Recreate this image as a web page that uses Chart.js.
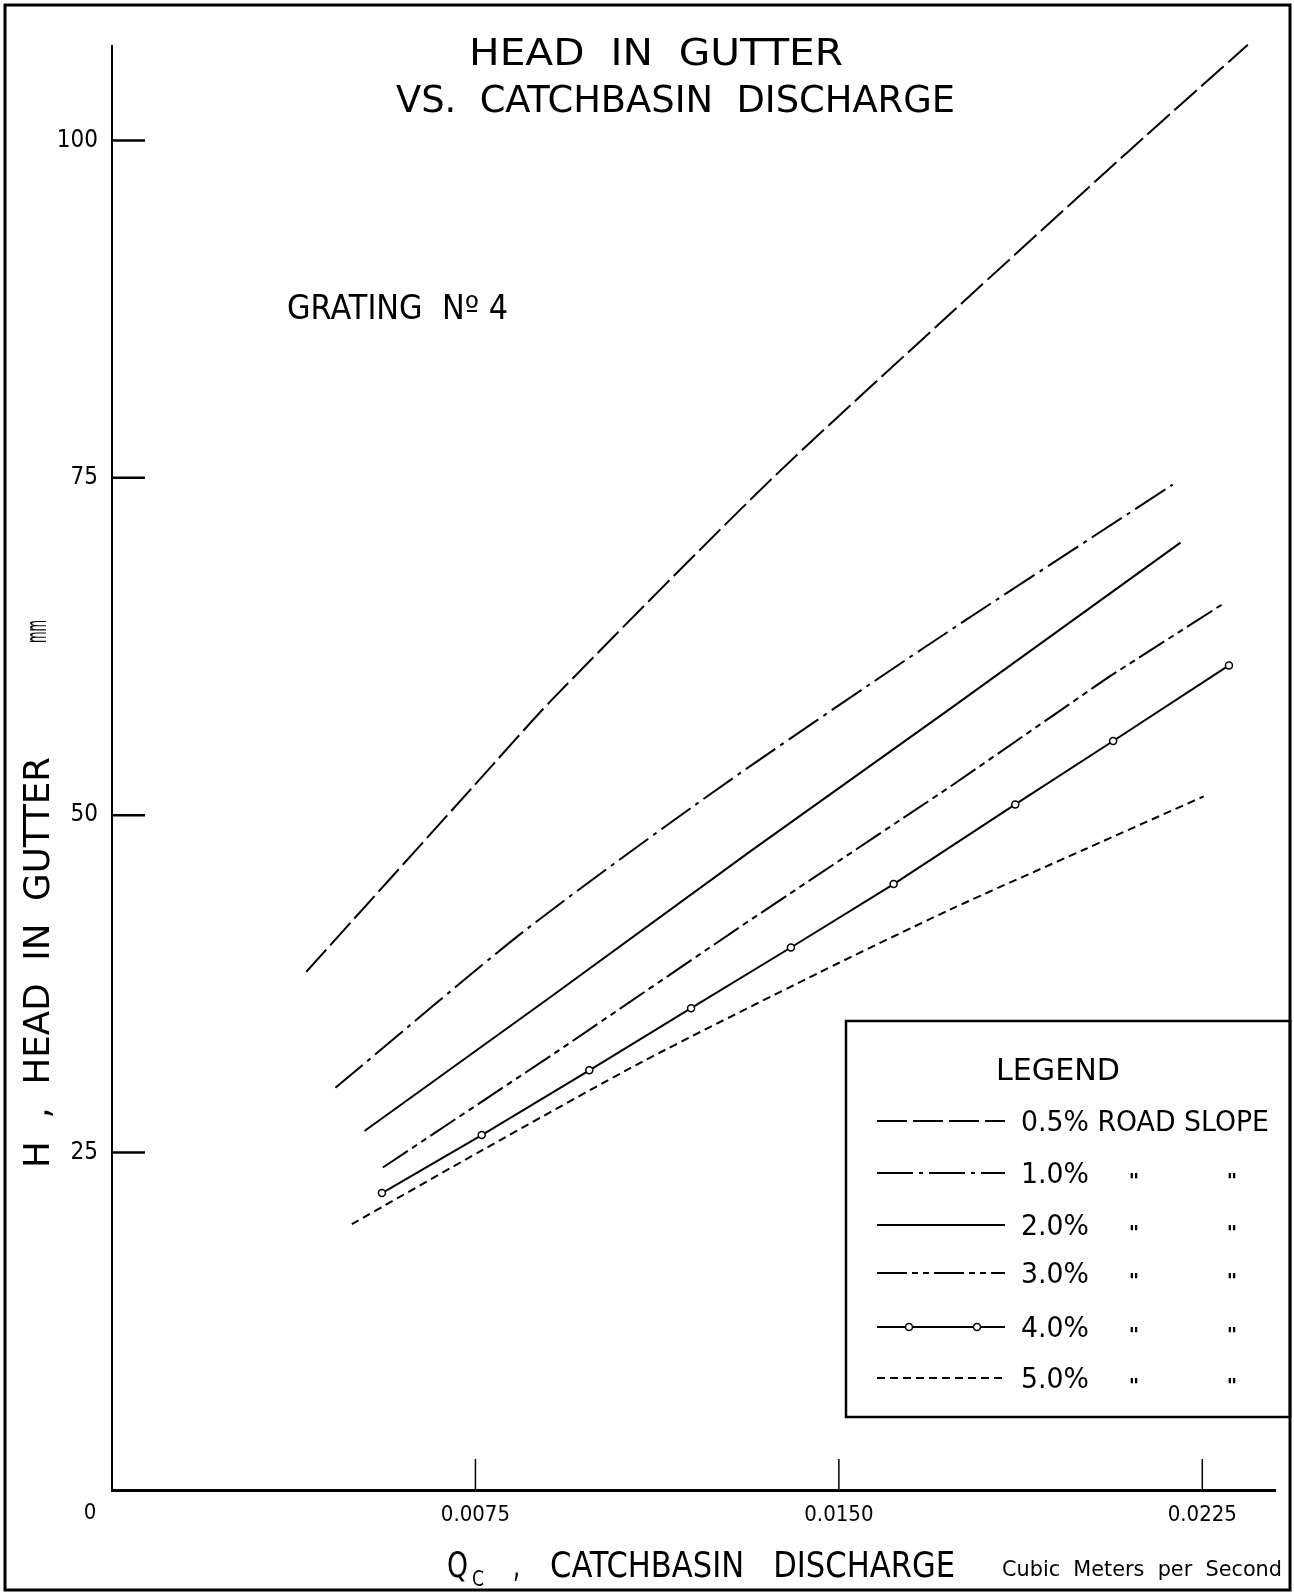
<!DOCTYPE html>
<html>
<head>
<meta charset="utf-8">
<title>Head in gutter vs. catchbasin discharge</title>
<script src="https://cdn.jsdelivr.net/npm/chart.js@4.4.0/dist/chart.umd.min.js"></script>
<style>
  html, body { margin: 0; padding: 0; background: #fff; }
  #wrap { width: 1294px; height: 1593px; position: relative; }
</style>
</head>
<body>
<div id="wrap"><canvas id="chart" width="1294" height="1593"></canvas></div>
<script>
/* ---------------------------------------------
   Data (Q in m3/s, H in mm)
   --------------------------------------------- */
var slopeLabels = ['0.5% ROAD SLOPE', '1.0%', '2.0%', '3.0%', '4.0%', '5.0%'];

var q05 = [0.00401, 0.0075, 0.00909, 0.01355, 0.01728, 0.02101, 0.02344];
var h05 = [38.4, 52.3, 58.6, 74.7, 87.1, 99.3, 107.1];

var q10 = [0.00461, 0.0085, 0.01244, 0.01671, 0.02189];
var h10 = [29.8, 41.4, 51.8, 62.3, 74.5];

var q20 = [0.00521, 0.0090, 0.0132, 0.0173, 0.02205];
var h20 = [26.6, 36.4, 47.4, 57.9, 70.2];

var q30 = [0.00559, 0.00919, 0.01295, 0.01729, 0.02055, 0.0229];
var h30 = [23.9, 32.5, 41.7, 52.1, 60.2, 65.6];

var q40 = [0.00557, 0.00763, 0.00985, 0.01195, 0.01401, 0.01613, 0.01864, 0.02066, 0.02305];
var h40 = [22.0, 26.3, 31.1, 35.7, 40.2, 44.9, 50.8, 55.5, 61.1];

var q50 = [0.00495, 0.00765, 0.01098, 0.01457, 0.01729, 0.02009, 0.02253];
var h50 = [19.7, 25.2, 31.8, 38.3, 43.0, 47.5, 51.4];

var xTicks = [0.0075, 0.015, 0.0225];
var xTickLabels = ['0.0075', '0.0150', '0.0225'];
var yTicks = [25, 50, 75, 100];

var NARROW = "'Liberation Sans Narrow', 'DejaVu Sans Condensed', sans-serif";
var ROUND = "'DejaVu Sans', 'Noto Sans', sans-serif";

function pairs(xs, ys) {
  return xs.map(function (x, i) { return { x: x, y: ys[i] }; });
}

function makeLine(label, xs, ys, dash, extra) {
  var ds = {
    label: label,
    data: pairs(xs, ys),
    borderColor: '#000',
    backgroundColor: '#000',
    borderWidth: 2,
    borderDash: dash,
    pointRadius: 0,
    tension: 0.25,
    clip: false,
    fill: false
  };
  if (extra) Object.keys(extra).forEach(function (k) { ds[k] = extra[k]; });
  return ds;
}

// draw text squeezed/stretched to a given width; (x, y) = left, baseline
function fitText(ctx, text, x, y, w, font) {
  ctx.save();
  ctx.font = font;
  ctx.textAlign = 'left';
  ctx.textBaseline = 'alphabetic';
  var m = ctx.measureText(text).width;
  ctx.translate(x, y);
  ctx.scale(w / m, 1);
  ctx.fillText(text, 0, 0);
  ctx.restore();
}

/* --- decorations: frame, titles, inner ticks, legend box --- */
var decorations = {
  id: 'decorations',
  afterDraw: function (chart) {
    var ctx = chart.ctx;
    var xs = chart.scales.x, ys = chart.scales.y;
    var area = chart.chartArea;
    ctx.save();
    ctx.fillStyle = '#000';
    ctx.strokeStyle = '#000';

    // outer frame
    ctx.lineWidth = 3;
    ctx.strokeRect(5, 5, 1285, 1585);

    // tick marks pointing into the plot
    ctx.lineWidth = 2.5;
    yTicks.forEach(function (v) {
      var py = ys.getPixelForValue(v);
      ctx.beginPath(); ctx.moveTo(area.left, py); ctx.lineTo(area.left + 33, py); ctx.stroke();
    });
    ctx.lineWidth = 1.5;
    xTicks.forEach(function (v) {
      var px = xs.getPixelForValue(v);
      ctx.beginPath(); ctx.moveTo(px, area.bottom); ctx.lineTo(px, area.bottom - 31); ctx.stroke();
    });

    // origin label
    ctx.save();
    ctx.font = '22px ' + NARROW;
    ctx.textAlign = 'center';
    ctx.textBaseline = 'middle';
    ctx.fillText('0', xs.getPixelForValue(0) - 22, area.bottom + 23);
    ctx.restore();

    // title
    fitText(ctx, 'HEAD  IN  GUTTER', 469, 65, 374, '37px ' + NARROW);
    fitText(ctx, 'VS.  CATCHBASIN  DISCHARGE', 396, 112, 559, '37px ' + NARROW);

    // grating note
    fitText(ctx, 'GRATING  N\u00BA 4', 287, 319, 221, '33px ' + ROUND);

    // y-axis title (rotated)
    ctx.save();
    ctx.translate(49, 1168);
    ctx.rotate(-Math.PI / 2);
    fitText(ctx, 'H  ,  HEAD  IN  GUTTER', 0, 0, 411, '36px ' + ROUND);
    ctx.restore();
    ctx.save();
    ctx.translate(46, 643);
    ctx.rotate(-Math.PI / 2);
    fitText(ctx, 'mm', 0, 0, 23, '28px ' + NARROW);
    ctx.restore();

    // x-axis title
    fitText(ctx, 'Q', 447, 1577, 21, '35px ' + NARROW);
    fitText(ctx, 'C', 472, 1586, 12, '22px ' + NARROW);
    fitText(ctx, ',', 513, 1577, 7, '35px ' + NARROW);
    fitText(ctx, 'CATCHBASIN   DISCHARGE', 550, 1577, 405, '35px ' + NARROW);
    fitText(ctx, 'Cubic  Meters  per  Second', 1002, 1576, 280, '22px ' + NARROW);

    // legend box (right side runs into the frame)
    ctx.lineWidth = 2.5;
    ctx.strokeRect(846, 1021, 444, 396);
    fitText(ctx, 'LEGEND', 996, 1080, 124, '31px ' + ROUND);

    var rowY = [1121, 1173, 1225, 1273, 1327, 1378];
    ctx.font = '28px ' + ROUND;
    var sx = 248 / ctx.measureText(slopeLabels[0]).width;
    chart.data.datasets.forEach(function (ds, i) {
      var y = rowY[i];
      ctx.save();
      ctx.lineWidth = 2;
      ctx.setLineDash(ds.borderDash || []);
      ctx.beginPath(); ctx.moveTo(877, y); ctx.lineTo(1005, y); ctx.stroke();
      ctx.restore();
      if (ds.pointRadius) {
        [909, 977].forEach(function (cx) {
          ctx.save();
          ctx.fillStyle = '#fff'; ctx.lineWidth = 1.5;
          ctx.beginPath(); ctx.arc(cx, y, 3.5, 0, Math.PI * 2); ctx.fill(); ctx.stroke();
          ctx.restore();
        });
      }
      ctx.save();
      ctx.font = '28px ' + ROUND;
      ctx.textAlign = 'left';
      ctx.textBaseline = 'alphabetic';
      ctx.translate(1021, y + 10);
      ctx.scale(sx, 1);
      ctx.fillText(ds.label, 0, 0);
      ctx.restore();
      if (i > 0) {
        ctx.save();
        ctx.font = 'bold 20px ' + ROUND;
        ctx.textAlign = 'center';
        ctx.textBaseline = 'alphabetic';
        ctx.fillText('"', 1134, y + 14);
        ctx.fillText('"', 1232, y + 14);
        ctx.restore();
      }
    });
    ctx.restore();
  }
};

new Chart(document.getElementById('chart'), {
  type: 'line',
  data: {
    datasets: [
      makeLine(slopeLabels[0], q05, h05, [30, 6]),
      makeLine(slopeLabels[1], q10, h10, [36, 6, 4, 6]),
      makeLine(slopeLabels[2], q20, h20, [], { tension: 0 }),
      makeLine(slopeLabels[3], q30, h30, [30, 5, 6, 5, 6, 5], { tension: 0 }),
      makeLine(slopeLabels[4], q40, h40, [], {
        tension: 0, pointRadius: 3.5, pointBorderWidth: 1.5,
        pointBackgroundColor: '#fff', pointBorderColor: '#000'
      }),
      makeLine(slopeLabels[5], q50, h50, [8, 5])
    ]
  },
  options: {
    responsive: false,
    animation: false,
    layout: { padding: { left: 0, right: 19, top: 46, bottom: 0 } },
    plugins: {
      legend: { display: false },
      title: { display: false },
      tooltip: { enabled: false }
    },
    scales: {
      x: {
        type: 'linear',
        min: 0, max: 0.024,
        afterFit: function (s) { s.height = 103; },
        afterBuildTicks: function (s) { s.ticks = xTicks.map(function (v) { return { value: v }; }); },
        grid: { drawOnChartArea: false, drawTicks: false, color: '#000' },
        border: { display: true, color: '#000', width: 3 },
        ticks: {
          padding: 12,
          color: '#000',
          maxRotation: 0,
          autoSkip: false,
          font: { family: NARROW, size: 22 },
          callback: function (v) { return xTickLabels[xTicks.indexOf(v)]; }
        }
      },
      y: {
        type: 'linear',
        min: 0, max: 107,
        afterFit: function (s) { s.width = 112; },
        afterBuildTicks: function (s) { s.ticks = yTicks.map(function (v) { return { value: v }; }); },
        grid: { drawOnChartArea: false, drawTicks: false, color: '#000' },
        border: { display: true, color: '#000', width: 2 },
        ticks: {
          padding: 14,
          color: '#000',
          font: { family: NARROW, size: 24 }
        }
      }
    }
  },
  plugins: [decorations]
});
</script>
</body>
</html>
